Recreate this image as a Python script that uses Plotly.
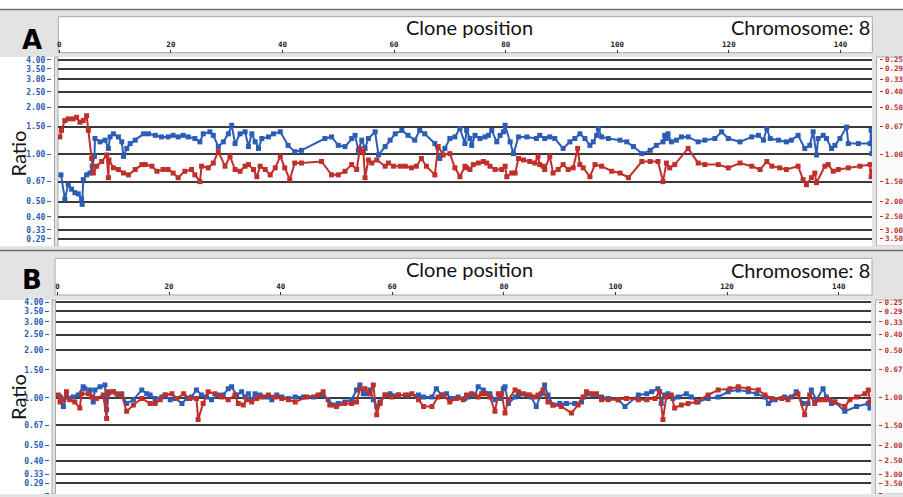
import plotly.graph_objects as go

# ---------------- data ----------------
clone_ticks = [0, 20, 40, 60, 80, 100, 120, 140]
ratio_ticks = [4, 3.5, 3, 2.5, 2, 1.5, 1, 0.67, 0.5, 0.4, 0.33, 0.29, 0.25]
left_labels = ["4.00", "3.50", "3.00", "2.50", "2.00", "1.50", "1.00",
               "0.67", "0.50", "0.40", "0.33", "0.29", "0.25"]
right_labels = ["0.25", "0.29", "0.33", "0.40", "0.50", "0.67", "1.00",
                "1.50", "2.00", "2.50", "3.00", "3.50", "4.00"]

# Panel A (clone position, ratio)
A_blue = [(0.3, 0.74), (1.0, 0.52), (1.6, 0.64), (2.2, 0.60), (2.8, 0.57), (3.4, 0.56), (4.0, 0.52), (4.1, 0.48),
          (4.3, 0.69), (4.9, 0.74), (5.5, 0.76), (5.9, 0.84), (6.3, 0.97), (6.4, 1.26), (7.3, 1.20), (8.2, 1.23),
          (8.8, 1.09), (9.1, 1.29), (9.7, 1.35), (10.6, 1.29), (11.2, 1.20), (11.5, 0.97), (12.1, 1.09), (12.7, 1.17),
          (13.6, 1.23), (15.1, 1.35), (16.0, 1.35), (17.2, 1.32), (18.3, 1.29), (19.5, 1.29), (20.4, 1.32), (21.3, 1.29),
          (22.2, 1.32), (23.1, 1.29), (24.3, 1.26), (25.2, 1.20), (25.8, 1.35), (27.0, 1.39), (27.6, 1.32), (28.5, 1.12),
          (29.4, 1.20), (30.3, 1.35), (30.9, 1.53), (31.5, 1.17), (32.4, 1.35), (33.3, 1.39), (33.9, 1.12), (34.5, 1.35),
          (35.1, 1.20), (35.7, 1.09), (36.3, 1.26), (37.5, 1.29), (38.4, 1.35), (39.6, 1.39), (41.0, 1.14), (42.2, 1.04),
          (43.4, 1.06), (47.6, 1.26), (48.8, 1.29), (50.0, 1.14), (51.2, 1.12), (52.4, 1.26), (53.0, 1.32), (53.6, 1.06),
          (54.2, 1.23), (54.8, 1.09), (55.4, 1.26), (56.6, 1.39), (57.2, 0.99), (58.4, 1.12), (59.3, 1.23), (60.2, 1.35),
          (61.4, 1.42), (62.5, 1.32), (63.7, 1.23), (64.6, 1.42), (65.5, 1.35), (67.3, 1.17), (68.2, 0.94), (69.1, 1.09),
          (70.0, 1.26), (70.9, 1.29), (71.8, 1.46), (72.7, 1.17), (73.0, 1.42), (73.6, 1.26), (73.9, 1.14), (74.5, 1.32),
          (75.4, 1.26), (76.3, 1.29), (76.9, 1.32), (77.5, 1.42), (78.4, 1.20), (79.0, 1.32), (79.6, 1.39), (79.9, 1.53),
          (80.8, 1.20), (81.4, 1.01), (82.3, 1.29), (83.8, 1.29), (85.5, 1.26), (86.1, 1.32), (87.0, 1.26), (87.9, 1.29),
          (88.8, 1.26), (90.3, 1.09), (91.5, 1.20), (92.4, 1.26), (93.3, 1.35), (94.2, 1.26), (95.1, 1.14), (95.7, 1.20),
          (96.3, 1.32), (96.6, 1.46), (97.2, 1.29), (98.4, 1.26), (100.5, 1.23), (101.7, 1.20), (102.9, 1.12), (104.4, 1.01),
          (105.9, 1.06), (107.0, 1.14), (108.2, 1.20), (108.5, 1.32), (108.8, 1.26), (109.1, 1.35), (109.7, 1.20), (110.6, 1.23),
          (111.5, 1.29), (112.7, 1.29), (114.5, 1.20), (115.7, 1.23), (117.5, 1.26), (118.7, 1.39), (119.9, 1.26), (122.0, 1.20),
          (124.1, 1.29), (125.3, 1.32), (126.2, 1.23), (126.8, 1.46), (127.4, 1.26), (128.9, 1.23), (130.3, 1.20), (131.2, 1.23),
          (132.4, 1.32), (133.6, 1.09), (134.5, 1.14), (135.1, 1.39), (135.7, 0.99), (136.0, 1.26), (136.9, 1.32), (137.5, 1.26),
          (138.4, 1.09), (139.0, 1.14), (139.9, 1.26), (141.1, 1.49), (141.4, 1.17), (143.2, 1.17), (145.3, 1.17), (145.5, 1.42),
          (145.6, 1.01)]

A_red = [(0.1, 1.29), (0.4, 1.42), (1.0, 1.64), (1.6, 1.68), (2.5, 1.68), (3.1, 1.72), (3.7, 1.60), (4.3, 1.64),
         (4.9, 1.76), (5.2, 1.42), (5.8, 0.94), (6.1, 0.76), (6.7, 0.84), (7.6, 0.90), (8.5, 0.99), (8.8, 0.71),
         (8.9, 0.92), (9.7, 0.82), (10.6, 0.80), (11.5, 0.76), (12.4, 0.74), (13.6, 0.80), (14.8, 0.86), (15.4, 0.86),
         (16.6, 0.84), (17.5, 0.78), (18.6, 0.80), (19.5, 0.80), (20.4, 0.76), (21.3, 0.71), (22.5, 0.78), (23.7, 0.80),
         (24.3, 0.74), (25.2, 0.67), (25.5, 0.84), (26.7, 0.82), (27.6, 0.88), (28.5, 1.04), (29.7, 0.84), (30.6, 0.97),
         (31.5, 0.80), (32.4, 0.78), (33.3, 0.84), (33.9, 0.86), (34.8, 0.80), (35.4, 0.72), (36.0, 0.84), (36.9, 0.80),
         (37.8, 0.74), (38.7, 0.82), (39.6, 0.97), (40.4, 0.82), (41.3, 0.69), (42.2, 0.88), (43.4, 0.88), (47.0, 0.90),
         (48.8, 0.74), (50.0, 0.74), (51.2, 0.78), (52.4, 0.86), (53.3, 0.80), (53.9, 1.09), (54.5, 1.04), (54.8, 0.71),
         (55.4, 0.92), (56.0, 0.88), (56.9, 0.92), (58.4, 0.84), (59.0, 0.88), (59.9, 0.84), (61.1, 0.84), (62.0, 0.84),
         (63.1, 0.82), (64.0, 0.84), (64.9, 0.94), (65.8, 0.84), (67.3, 0.74), (67.9, 1.12), (68.8, 0.99), (70.0, 1.01),
         (70.9, 0.82), (71.8, 0.72), (72.7, 0.84), (73.0, 0.82), (73.6, 0.80), (74.2, 0.86), (75.1, 0.88), (76.0, 0.90),
         (76.6, 0.88), (77.2, 0.84), (78.1, 0.80), (79.3, 0.80), (79.9, 0.84), (80.2, 0.72), (81.1, 0.76), (81.7, 0.76),
         (82.3, 0.94), (83.2, 0.92), (84.3, 0.90), (85.2, 0.88), (85.8, 0.97), (86.1, 0.86), (86.7, 0.84), (87.0, 0.80),
         (87.9, 0.97), (88.5, 0.76), (89.4, 0.80), (90.3, 0.86), (91.2, 0.80), (92.1, 0.82), (92.9, 1.09), (93.3, 0.86),
         (93.9, 0.82), (95.1, 0.72), (96.0, 0.86), (97.2, 0.84), (99.0, 0.78), (100.5, 0.76), (102.0, 0.71), (104.4, 0.90),
         (105.9, 0.90), (107.3, 0.90), (108.2, 0.67), (108.8, 0.88), (109.4, 0.82), (110.3, 0.86), (112.7, 1.09), (114.5, 0.88),
         (115.7, 0.86), (118.1, 0.86), (119.9, 0.82), (122.0, 0.88), (124.1, 0.84), (125.6, 0.80), (126.8, 0.90), (127.7, 0.84),
         (129.1, 0.82), (130.3, 0.80), (132.4, 0.84), (133.3, 0.69), (133.9, 0.64), (134.8, 0.71), (135.4, 0.76), (135.7, 0.66),
         (137.2, 0.84), (137.8, 0.86), (138.7, 0.78), (139.6, 0.80), (141.4, 0.82), (143.5, 0.84), (145.3, 0.86), (145.5, 0.72),
         (145.6, 0.78)]

# Panel B (clone position, ratio)
B_blue = [(0.5, 1.01), (1.05, 0.88), (1.6, 1.01), (2.8, 1.01), (3.7, 1.04), (4.6, 1.17), (4.9, 1.14), (5.8, 1.12),
          (6.4, 0.94), (6.7, 1.12), (7.6, 1.17), (8.5, 1.20), (8.8, 0.84), (9.1, 1.06), (10.0, 1.09), (10.9, 1.04),
          (11.5, 1.06), (12.4, 0.92), (13.6, 0.97), (15.1, 1.12), (16.0, 1.06), (16.6, 1.04), (17.5, 0.99), (18.7, 1.01),
          (19.3, 1.04), (20.2, 0.97), (21.1, 0.99), (22.3, 0.92), (23.2, 0.99), (24.0, 1.01), (24.9, 1.12), (25.8, 1.04),
          (26.7, 1.01), (27.6, 0.97), (28.8, 1.04), (29.7, 1.04), (30.6, 1.14), (31.2, 1.17), (32.1, 1.04), (33.0, 1.09),
          (33.6, 1.01), (34.2, 1.06), (34.8, 0.97), (35.4, 1.06), (36.3, 1.04), (37.5, 1.01), (38.4, 0.97), (39.3, 1.04),
          (40.2, 1.01), (41.4, 0.99), (42.6, 1.01), (44.1, 1.01), (45.9, 1.01), (47.3, 1.04), (48.5, 0.97), (49.4, 0.90),
          (50.3, 0.92), (51.5, 0.94), (52.7, 0.97), (53.6, 1.12), (54.2, 1.20), (54.8, 1.06), (55.4, 1.06), (56.0, 1.12),
          (56.6, 0.97), (57.2, 0.88), (57.8, 0.94), (58.7, 1.04), (59.6, 1.06), (61.1, 1.04), (62.9, 1.04), (64.7, 1.04),
          (65.6, 1.01), (67.1, 1.01), (67.9, 1.14), (68.8, 1.04), (69.7, 1.06), (70.6, 0.99), (71.8, 1.01), (73.0, 0.99),
          (73.6, 1.01), (74.8, 1.04), (75.4, 1.17), (76.3, 1.12), (77.5, 1.06), (78.4, 0.97), (79.3, 0.99), (79.9, 1.14),
          (80.2, 1.17), (80.8, 0.92), (82.0, 1.01), (82.6, 1.04), (84.1, 1.04), (84.9, 1.01), (85.8, 0.88), (86.7, 1.06),
          (87.3, 1.20), (87.9, 1.04), (88.8, 0.90), (90.0, 0.92), (91.2, 0.92), (92.7, 0.92), (93.9, 0.94), (95.1, 1.06),
          (96.0, 1.04), (97.5, 1.01), (98.7, 0.99), (100.5, 0.97), (101.7, 0.88), (104.1, 1.04), (105.6, 1.06), (106.5, 1.09),
          (107.6, 1.14), (108.2, 0.92), (108.8, 1.04), (109.4, 1.06), (110.3, 0.99), (111.2, 1.01), (112.7, 1.06), (113.6, 1.01),
          (114.8, 0.94), (116.6, 0.99), (118.4, 1.01), (120.2, 1.09), (122.0, 1.12), (123.8, 1.09), (125.3, 1.06), (126.8, 1.01),
          (127.4, 0.92), (128.6, 0.97), (130.3, 1.01), (131.5, 1.01), (132.4, 1.09), (133.6, 0.92), (134.5, 0.92), (135.1, 1.12),
          (136.0, 0.97), (137.2, 1.14), (137.8, 1.01), (138.7, 0.92), (139.3, 0.94), (141.1, 0.82), (143.2, 0.88), (145.3, 0.92),
          (145.6, 0.86)]

B_red = [(0.15, 1.04), (0.45, 0.94), (1.05, 0.97), (1.6, 1.09), (2.2, 0.97), (3.1, 0.94), (4.0, 0.86), (4.3, 1.06),
         (5.5, 1.06), (6.1, 1.01), (7.0, 0.99), (8.2, 1.04), (8.8, 0.74), (9.1, 1.09), (10.0, 1.09), (10.6, 1.06),
         (11.5, 1.04), (12.4, 0.82), (13.6, 0.90), (15.1, 0.99), (16.6, 0.92), (17.5, 0.92), (18.4, 0.97), (19.3, 1.04),
         (20.5, 1.06), (21.4, 0.99), (22.6, 1.06), (23.7, 0.99), (24.9, 0.99), (25.2, 0.73), (26.1, 0.92), (27.0, 1.09),
         (28.2, 1.06), (29.4, 1.01), (30.6, 0.97), (31.8, 1.04), (32.4, 0.92), (33.3, 0.90), (33.9, 0.97), (34.8, 0.94),
         (35.7, 0.99), (36.6, 1.01), (37.8, 1.04), (39.0, 1.01), (40.2, 0.99), (41.4, 0.97), (42.6, 0.94), (44.7, 1.01),
         (46.7, 1.04), (47.6, 1.09), (48.8, 0.90), (50.0, 0.88), (51.5, 0.92), (52.7, 0.92), (53.6, 0.94), (54.2, 1.14),
         (55.1, 1.14), (56.0, 1.06), (56.6, 1.20), (57.2, 0.78), (57.8, 0.92), (58.7, 1.04), (59.9, 1.01), (61.1, 1.04),
         (62.3, 1.04), (63.5, 1.06), (64.7, 0.97), (65.6, 0.88), (67.1, 0.88), (68.2, 1.01), (69.1, 1.04), (70.3, 0.94),
         (71.5, 0.99), (72.7, 0.97), (73.3, 1.04), (74.2, 1.06), (75.4, 1.01), (76.0, 1.06), (76.6, 1.06), (77.5, 1.01),
         (78.4, 0.82), (79.0, 1.06), (79.6, 1.06), (80.2, 0.80), (80.8, 0.97), (82.0, 1.12), (82.6, 1.09), (83.5, 1.06),
         (84.6, 1.04), (85.5, 1.01), (86.1, 1.04), (87.0, 1.12), (87.9, 0.94), (88.8, 0.90), (90.3, 0.88), (92.1, 0.80),
         (93.3, 0.90), (94.2, 1.01), (94.8, 1.09), (95.7, 1.06), (96.6, 1.06), (97.5, 0.97), (98.7, 0.97), (100.5, 0.97),
         (102.0, 0.99), (104.1, 0.97), (105.6, 0.97), (107.1, 0.99), (107.9, 1.09), (108.5, 0.73), (109.1, 1.01), (110.0, 1.04),
         (110.6, 0.86), (111.8, 0.90), (113.0, 0.92), (114.5, 0.94), (116.6, 1.04), (118.4, 1.12), (120.5, 1.14), (122.0, 1.17),
         (123.8, 1.14), (125.6, 1.12), (126.8, 1.04), (128.0, 0.99), (129.8, 0.99), (130.9, 0.97), (132.7, 1.06), (133.9, 0.78),
         (134.8, 1.04), (135.7, 0.92), (136.6, 0.97), (137.5, 0.97), (138.4, 0.97), (139.3, 0.94), (141.1, 0.88), (142.0, 0.97),
         (143.2, 1.01), (144.7, 1.06), (145.3, 1.12), (145.6, 0.94)]

# ---------------- layout helpers ----------------
W, H = 903, 497
def px(x):
    return x / W
def py(y):
    return 1 - y / H

BLUE = "#2b5cb6"
RED = "#c0302b"
GRAY = "#e3e3e3"
TEXTFONT = "Lato"
MONO = "DejaVu Sans Mono"

fig = go.Figure()

def add_series(series, xa, ya, color):
    fig.add_trace(go.Scatter(
        x=[p for p, _ in series], y=[r for _, r in series],
        xaxis=xa, yaxis=ya, mode="lines+markers",
        line=dict(color=color, width=2),
        marker=dict(symbol="square", size=5, color=color),
        showlegend=False, hoverinfo="skip"))

add_series(A_blue, "x", "y", BLUE)
add_series(A_red, "x", "y", RED)
add_series(B_blue, "x2", "y2", BLUE)
add_series(B_red, "x2", "y2", RED)
# anchors for the reciprocal (right) axes
fig.add_trace(go.Scatter(x=[None], y=[None], xaxis="x", yaxis="y3", showlegend=False, hoverinfo="skip"))
fig.add_trace(go.Scatter(x=[None], y=[None], xaxis="x2", yaxis="y4", showlegend=False, hoverinfo="skip"))

panels = {
    "A": dict(xd=(58, 872), yd=(57, 246), xr=[-0.23, 145.65], yr=[-0.5836, 0.6192], xpos=52.7, lpos=51, rpos=878.5),
    "B": dict(xd=(55.5, 871), yd=(300, 494), xr=[-0.36, 145.79], yr=[-0.6066, 0.6153], xpos=295, lpos=49, rpos=878),
}

def x_axis(p):
    return dict(domain=[px(p["xd"][0]), px(p["xd"][1])], range=p["xr"], side="top",
                anchor="free", position=py(p["xpos"]), tickvals=clone_ticks, automargin=False,
                ticks="outside", ticklen=3, tickwidth=1, tickcolor="#333",
                tickfont=dict(family=MONO, size=7.5, color="#222", weight="bold"),
                showgrid=False, zeroline=False, showline=False)

def y_left(p):
    return dict(domain=[py(p["yd"][1]), py(p["yd"][0])], type="log", range=p["yr"], automargin=False,
                anchor="free", position=px(p["lpos"]), tickvals=ratio_ticks, ticktext=left_labels,
                ticks="outside", ticklen=4, tickwidth=1.2, tickcolor=BLUE,
                tickfont=dict(family=MONO, size=8, color=BLUE, weight="bold"),
                showgrid=True, gridcolor="#3a3a3a", gridwidth=1.5,
                zeroline=False, showline=False)

def y_right(p, over):
    return dict(overlaying=over, side="right", type="log", range=p["yr"], automargin=False,
                anchor="free", position=px(p["rpos"]), tickvals=ratio_ticks, ticktext=right_labels,
                ticks="outside", ticklen=3, tickwidth=1.2, tickcolor=RED,
                tickfont=dict(family=MONO, size=7.5, color=RED, weight="bold"),
                ticklabelstandoff=1,
                showgrid=False, zeroline=False, showline=False)

A, B = panels["A"], panels["B"]

shapes = []
def rect(x0, y0, x1, y1, fill, line=None, lw=0):
    shapes.append(dict(type="rect", xref="paper", yref="paper", layer="below",
                       x0=px(x0), x1=px(x1), y0=py(y1), y1=py(y0), fillcolor=fill,
                       line=dict(color=line or fill, width=lw)))
def hline(y, x0, x1, color, lw):
    shapes.append(dict(type="line", xref="paper", yref="paper", layer="below",
                       x0=px(x0), x1=px(x1), y0=py(y), y1=py(y), line=dict(color=color, width=lw)))

# panel A frame
rect(0, 9.5, 903, 57, GRAY)
rect(58.3, 16.7, 872.3, 52.7, "white", "#a8a8a8", 1)
rect(54.5, 57, 58, 246, GRAY, "#a8a8a8", 1)
rect(872, 57, 876.5, 246, GRAY)
rect(876.5, 57, 905, 246, "#fbfbfb", "#b0b0b0", 1)
hline(9.5, 0, 903, "#707070", 1.5)
# panel B frame
rect(0, 246, 903, 300, GRAY)
hline(250.5, 0, 903, "#707070", 1.5)
rect(55, 258.3, 872, 295, "white", "#a8a8a8", 1)
rect(52, 300, 55.5, 494, GRAY, "#a8a8a8", 1)
rect(871, 300, 875.5, 494, GRAY)
rect(875.5, 300, 905, 494, "#fbfbfb", "#b0b0b0", 1)
rect(0, 494, 903, 497, GRAY)

annotations = []
def text(t, x, y, size, family=TEXTFONT, xanchor="center", angle=0, color="#111"):
    annotations.append(dict(text=t, x=px(x), y=py(y), xref="paper", yref="paper",
                            xanchor=xanchor, yanchor="middle", showarrow=False, textangle=angle,
                            font=dict(family=family, size=size, color=color)))

for lab, yy, yr_mid in (("A", 40, 154), ("B", 279.5, 397.5)):
    text("<b>" + lab + "</b>", 32, yy, 26, family="DejaVu Sans", color="#000")
    text("Ratio", 17.5, yr_mid, 20, angle=-90)
text("Clone position", 469, 27, 20)
text("Chromosome: 8", 872, 27, 20, xanchor="right")
text("Clone position", 469, 269, 20)
text("Chromosome: 8", 872, 269.5, 20, xanchor="right")

fig.update_layout(
    width=W, height=H, margin=dict(l=0, r=0, t=0, b=0, autoexpand=False),
    paper_bgcolor="white", plot_bgcolor="white",
    xaxis=x_axis(A), yaxis=y_left(A), yaxis3=y_right(A, "y"),
    xaxis2=x_axis(B), yaxis2=y_left(B), yaxis4=y_right(B, "y2"),
    shapes=shapes, annotations=annotations, showlegend=False,
)

fig.write_html("out.html", config={"displayModeBar": False},
               post_script="document.body.style.margin='0';")
